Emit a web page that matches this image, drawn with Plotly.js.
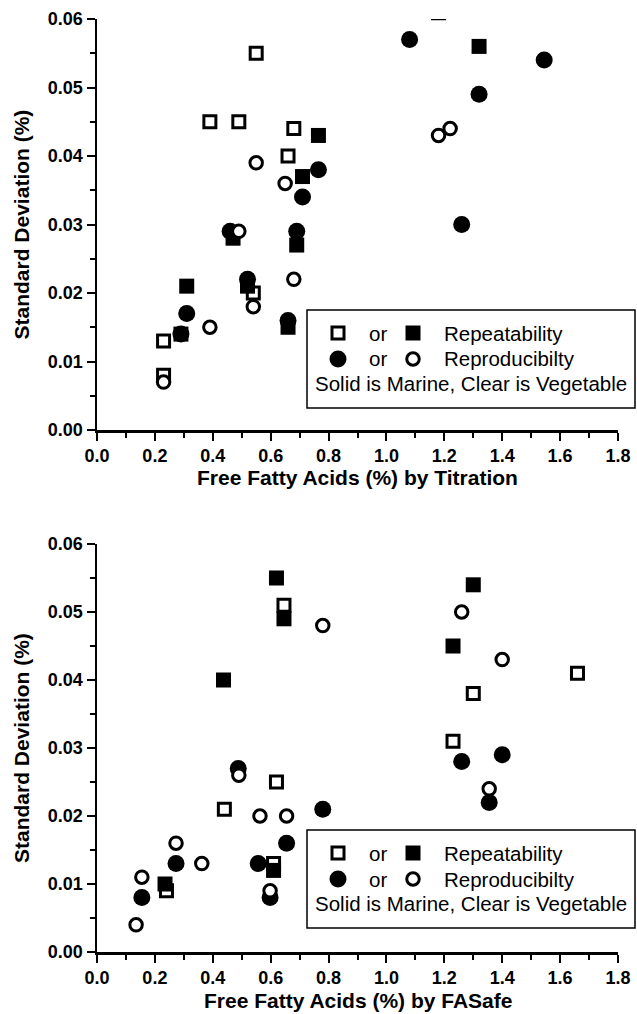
<!DOCTYPE html>
<html>
<head>
<meta charset="utf-8">
<script src="https://cdn.plot.ly/plotly-3.0.1.min.js"></script>
<style>html,body{margin:0;padding:0;background:#fff;}#chart{width:637px;height:1014px;}</style>
</head>
<body>
<div id="chart"></div>
<script>
// ---- Top chart: FFA by Titration ----
const topOpenSqX = [0.55, 0.39, 0.49, 0.68, 0.66, 0.54, 0.23, 0.23, 1.18];
const topOpenSqY = [0.055, 0.045, 0.045, 0.044, 0.040, 0.020, 0.013, 0.008, 0.0609];
const topFillSqX = [1.32, 0.765, 0.71, 0.47, 0.69, 0.31, 0.52, 0.66, 0.29];
const topFillSqY = [0.056, 0.043, 0.037, 0.028, 0.027, 0.021, 0.021, 0.015, 0.014];
const topFillCiX = [1.08, 1.545, 1.32, 1.26, 0.765, 0.71, 0.46, 0.69, 0.52, 0.31, 0.29, 0.66];
const topFillCiY = [0.057, 0.054, 0.049, 0.030, 0.038, 0.034, 0.029, 0.029, 0.022, 0.017, 0.014, 0.016];
const topOpenCiX = [1.18, 1.22, 0.55, 0.65, 0.49, 0.68, 0.54, 0.39, 0.23];
const topOpenCiY = [0.043, 0.044, 0.039, 0.036, 0.029, 0.022, 0.018, 0.015, 0.007];

// ---- Bottom chart: FFA by FASafe ----
const botOpenSqX = [0.646, 0.62, 0.44, 1.66, 1.30, 1.23, 0.61, 0.24];
const botOpenSqY = [0.051, 0.025, 0.021, 0.041, 0.038, 0.031, 0.013, 0.009];
const botFillSqX = [0.62, 0.646, 0.437, 1.30, 1.23, 0.61, 0.235];
const botFillSqY = [0.055, 0.049, 0.040, 0.054, 0.045, 0.012, 0.010];
const botFillCiX = [0.488, 0.78, 0.655, 0.273, 0.557, 0.155, 0.598, 1.26, 1.40, 1.355];
const botFillCiY = [0.027, 0.021, 0.016, 0.013, 0.013, 0.008, 0.008, 0.028, 0.029, 0.022];
const botOpenCiX = [0.49, 0.563, 0.655, 0.273, 0.362, 0.155, 0.598, 0.135, 0.78, 1.26, 1.40, 1.355];
const botOpenCiY = [0.026, 0.020, 0.020, 0.016, 0.013, 0.011, 0.009, 0.004, 0.048, 0.050, 0.043, 0.024];

// ---- Text ----
const yTitle = 'Standard Deviation (%)';
const topXTitle = 'Free Fatty Acids (%) by Titration';
const botXTitle = 'Free Fatty Acids (%) by FASafe';
const legRow1 = 'Repeatability';
const legRow2 = 'Reproducibilty';
const legRow3 = 'Solid is Marine, Clear is Vegetable';
const legOr = 'or';

const W = 637, H = 1014;
const px = x => x / W;
const py = y => 1 - y / H;
const FONT = 'Liberation Sans, Arial, sans-serif';

const openSq = {symbol: 'square', size: 12, color: 'white', line: {color: 'black', width: 3}};
const fillSq = {symbol: 'square', size: 15, color: 'black', line: {width: 0}};
const fillCi = {symbol: 'circle', size: 17, color: 'black', line: {width: 0}};
const openCi = {symbol: 'circle', size: 12.5, color: 'white', line: {color: 'black', width: 3}};

function tr(x, y, m, xa, ya) {
  return {type: 'scatter', mode: 'markers', x: x, y: y, marker: m, xaxis: xa, yaxis: ya, showlegend: false, hoverinfo: 'skip'};
}

const data = [
  tr(topOpenSqX, topOpenSqY, openSq, 'x', 'y'),
  tr(topFillSqX, topFillSqY, fillSq, 'x', 'y'),
  tr(topFillCiX, topFillCiY, fillCi, 'x', 'y'),
  tr(topOpenCiX, topOpenCiY, openCi, 'x', 'y'),
  tr(botOpenSqX, botOpenSqY, openSq, 'x2', 'y2'),
  tr(botFillSqX, botFillSqY, fillSq, 'x2', 'y2'),
  tr(botFillCiX, botFillCiY, fillCi, 'x2', 'y2'),
  tr(botOpenCiX, botOpenCiY, openCi, 'x2', 'y2')
];

const tickFont = {family: FONT, size: 18, color: 'black', weight: 'bold'};
function xax(anchor) {
  return {domain: [px(97), px(618)], range: [0, 1.8], anchor: anchor, tick0: 0, dtick: 0.2, tickformat: '.1f',
    ticks: 'outside', ticklen: 8, tickwidth: 2, tickcolor: 'black', showline: true, linewidth: 2.5, linecolor: 'black',
    showgrid: false, zeroline: false, automargin: false, fixedrange: true, tickfont: tickFont,
    minor: {ticks: 'outside', ticklen: 5, tickwidth: 2, tickcolor: 'black', dtick: 0.1, tick0: 0, showgrid: false}};
}
function yax(anchor, top, bot) {
  return {domain: [py(bot), py(top)], range: [0, 0.06], anchor: anchor, tick0: 0, dtick: 0.01, tickformat: '.2f',
    ticks: 'outside', ticklen: 8, tickwidth: 2, tickcolor: 'black', showline: true, linewidth: 2.5, linecolor: 'black',
    showgrid: false, zeroline: false, automargin: false, fixedrange: true, tickfont: tickFont,
    minor: {ticks: 'outside', ticklen: 5, tickwidth: 2, tickcolor: 'black', dtick: 0.005, tick0: 0, showgrid: false}};
}

const annotations = [];
const shapes = [];
function ann(text, x, y, opts) {
  annotations.push(Object.assign({text: text, x: px(x), y: py(y), xref: 'paper', yref: 'paper', showarrow: false,
    xanchor: 'center', yanchor: 'middle', font: {family: FONT, size: 20.5, color: 'black'}}, opts || {}));
}
function titles(plotTop, plotBot, xTitle, xTitleY) {
  ann(xTitle, 357.5, xTitleY, {font: {family: FONT, size: 21, color: 'black', weight: 'bold'}});
  ann(yTitle, 21, (plotTop + plotBot) / 2, {textangle: -90, font: {family: FONT, size: 21, color: 'black', weight: 'bold'}});
}
function marker(kind, cx, cy) {
  const half = (kind === 'osq') ? 6 : (kind === 'fsq' ? 7.5 : (kind === 'fci' ? 8.5 : 6.25));
  const s = {xref: 'paper', yref: 'paper', xsizemode: 'pixel', ysizemode: 'pixel', xanchor: px(cx), yanchor: py(cy),
    x0: -half, x1: half, y0: -half, y1: half};
  if (kind === 'osq') Object.assign(s, {type: 'rect', fillcolor: 'white', line: {color: 'black', width: 3}});
  if (kind === 'fsq') Object.assign(s, {type: 'rect', fillcolor: 'black', line: {width: 0}});
  if (kind === 'fci') Object.assign(s, {type: 'circle', fillcolor: 'black', line: {width: 0}});
  if (kind === 'oci') Object.assign(s, {type: 'circle', fillcolor: 'white', line: {color: 'black', width: 3}});
  shapes.push(s);
}
function legendBox(T) {
  const L = 307, R = 635, B = T + 98;
  shapes.push({type: 'rect', xref: 'paper', yref: 'paper', x0: px(L), x1: px(R), y0: py(B), y1: py(T),
    fillcolor: 'white', line: {color: 'black', width: 1.5}});
  const r1 = T + 23, r2 = T + 49, r3 = T + 73;
  marker('osq', 338, r1); marker('fsq', 413, r1);
  marker('fci', 338, r2); marker('oci', 413, r2);
  ann(legOr, 367, r1, {xanchor: 'left'});
  ann(legOr, 367, r2, {xanchor: 'left'});
  ann(legRow1, 442, r1, {xanchor: 'left'});
  ann(legRow2, 442, r2, {xanchor: 'left'});
  ann(legRow3, (L + R) / 2, r3);
}

titles(19, 430, topXTitle, 478);
titles(544, 952, botXTitle, 1000);
legendBox(310);
legendBox(830);

const layout = {
  width: W, height: H, margin: {l: 0, r: 0, t: 0, b: 0}, paper_bgcolor: 'white', plot_bgcolor: 'rgba(0,0,0,0)',
  showlegend: false,
  xaxis: xax('y'), yaxis: yax('x', 19, 430),
  xaxis2: xax('y2'), yaxis2: yax('x2', 544, 952),
  annotations: annotations, shapes: shapes
};

Plotly.newPlot('chart', data, layout, {staticPlot: true, displayModeBar: false});
</script>
</body>
</html>
